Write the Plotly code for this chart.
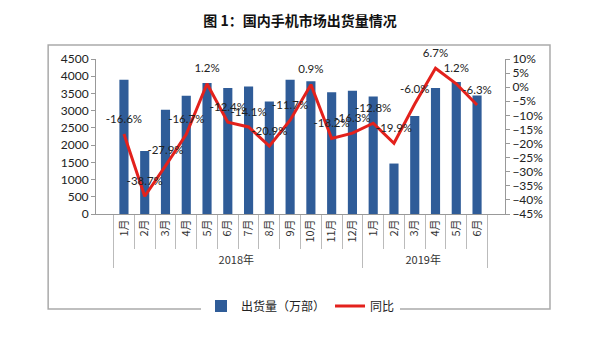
import plotly.graph_objects as go

years = ["2018年"] * 12 + ["2019年"] * 6
months = [f"{m}月" for m in range(1, 13)] + [f"{m}月" for m in range(1, 7)]
shipments = [3900, 1830, 3025, 3430, 3800, 3660, 3700, 3265, 3900, 3855,
             3535, 3575, 3410, 1465, 2845, 3660, 3835, 3440]
yoy = [-16.6, -38.7, -27.9, -16.7, 1.2, -12.4, -14.1, -20.9, -11.7, 0.9,
       -18.2, -16.3, -12.8, -19.9, -6.0, 6.7, 1.2, -6.3]
yoy_labels = [f"{v:.1f}%" for v in yoy]

FONT = "Lato, Noto Sans CJK SC, sans-serif"
CJK = "Noto Sans CJK SC, sans-serif"

fig = go.Figure()
fig.add_trace(go.Bar(
    x=[years, months], y=shipments, name="出货量（万部）",
    marker=dict(color="#2F5C98", line=dict(width=0)),
))
fig.add_trace(go.Scatter(
    x=[years, months], y=yoy, name="同比", yaxis="y2",
    mode="lines+markers+text", text=yoy_labels, textposition="top center",
    textfont=dict(size=11.5, color="#222", family=FONT),
    marker=dict(size=12, color="rgba(0,0,0,0)"),
    line=dict(color="#E3211C", width=3),
    cliponaxis=False,
))

fig.update_layout(
    width=600, height=345,
    margin=dict(l=96, r=95, t=59, b=131),
    paper_bgcolor="white", plot_bgcolor="white",
    bargap=0.56,
    showlegend=True,
    legend=dict(orientation="h", x=0.5, xanchor="center", y=-0.5, yanchor="top",
                font=dict(size=12, family=CJK, color="#222"),
                itemwidth=30, tracegroupgap=0),
    title=dict(text="<b>图 1：国内手机市场出货量情况</b>", x=0.5, xanchor="center",
               y=0.94, yanchor="middle", font=dict(size=14, family=CJK, color="#111")),
    xaxis=dict(
        type="multicategory", tickangle=-90,
        tickfont=dict(size=11, family=CJK, color="#333"),
        showline=True, linecolor="#999", linewidth=1,
        ticks="outside", tickson="boundaries", ticklen=34, tickcolor="#bbb",
        showdividers=True, dividercolor="#bbb", dividerwidth=1,
        showgrid=False,
    ),
    yaxis=dict(
        range=[0, 4500], dtick=500, showgrid=False,
        showline=True, linecolor="#999", linewidth=1,
        ticks="outside", ticklen=4, tickcolor="#999",
        tickfont=dict(size=12, family=FONT, color="#222"),
    ),
    yaxis2=dict(
        overlaying="y", side="right", range=[-45, 10], dtick=5,
        ticksuffix="%", showgrid=False, zeroline=False,
        showline=True, linecolor="#999", linewidth=1,
        ticks="outside", ticklen=4, tickcolor="#999",
        tickfont=dict(size=12, family=FONT, color="#222"),
    ),
    shapes=[dict(type="rect", xref="paper", yref="paper",
                 x0=-0.117, x1=1.110, y0=-0.613, y1=1.09,
                 line=dict(color="#aaa", width=1.5), layer="below")],
)

fig.write_html("out.html")
